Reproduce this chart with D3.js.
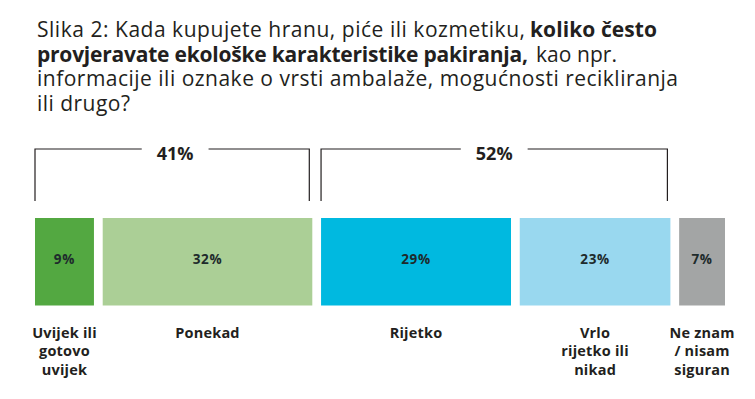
<!DOCTYPE html>
<html>
<head>
<meta charset="utf-8">
<script src="https://cdn.jsdelivr.net/npm/d3@7"></script>
<style>
  html, body { margin: 0; padding: 0; background: #fff; }
  svg { display: block; }
</style>
</head>
<body>
<div id="chart"></div>
<script>
(function () {
  // data
  var titleLines = [
    [{ t: 'Slika 2: Kada kupujete hranu, piće ili kozmetiku,', b: false }, { t: 'koliko često', b: true }],
    [{ t: 'provjeravate ekološke karakteristike pakiranja,', b: true }, { t: 'kao npr.', b: false }],
    [{ t: 'informacije ili oznake o vrsti ambalaže, mogućnosti recikliranja', b: false }],
    [{ t: 'ili drugo?', b: false }]
  ];
  var categoryLines = [
    ['Uvijek ili', 'gotovo', 'uvijek'],
    ['Ponekad'],
    ['Rijetko'],
    ['Vrlo', 'rijetko ili', 'nikad'],
    ['Ne znam', '/ nisam', 'siguran']
  ];
  var values = [9, 32, 29, 23, 7];
  var colors = ['#53a841', '#abcf96', '#00b9e0', '#99d8ef', '#a3a5a5'];
  var groupTotals = ['41%', '52%'];
  var groupFirst = [0, 2];
  var groupLast = [1, 3];

  var titleSpans = [
    [[37, 525], [530, 657]],
    [[37, 528], [536, 617]],
    [[37, 678]],
    [[37, 130]]
  ];

  var width = 755, height = 399;
  var left = 35, right = 725, gap = 8.75;
  var barTop = 218, barBottom = 305.5;
  var ink = '#231f20';

  var svg = d3.select('#chart').append('svg')
    .attr('width', width)
    .attr('height', height);

  // title
  var title = svg.append('g')
    .attr('fill', ink)
    .style('font-family', '"Open Sans", sans-serif')
    .style('font-size', '21px');

  titleLines.forEach(function (line, i) {
    line.forEach(function (part, j) {
      var span = titleSpans[i][j];
      title.append('text')
        .attr('x', span[0])
        .attr('y', 37 + i * 24.5)
        .attr('font-weight', part.b ? 700 : 400)
        .attr('textLength', span[1] - span[0])
        .attr('lengthAdjust', 'spacing')
        .text(part.t);
    });
  });

  // x scale: percentages -> pixels, leaving room for the gaps
  var x = d3.scaleLinear()
    .domain([0, 100])
    .range([0, right - left - gap * (values.length - 1)]);

  var starts = [];
  var acc = 0;
  values.forEach(function (v, i) {
    starts.push(left + x(acc) + gap * i);
    acc += v;
  });

  var bars = svg.append('g');

  bars.selectAll('rect')
    .data(values)
    .join('rect')
    .attr('x', function (d, i) { return starts[i]; })
    .attr('y', barTop)
    .attr('width', function (d) { return x(d); })
    .attr('height', barBottom - barTop)
    .attr('fill', function (d, i) { return colors[i]; });

  bars.selectAll('text')
    .data(values)
    .join('text')
    .attr('x', function (d, i) { return starts[i] + x(d) / 2; })
    .attr('y', (barTop + barBottom) / 2 + 2.5)
    .attr('text-anchor', 'middle')
    .attr('fill', '#1e2b2c')
    .style('font-family', '"Open Sans", sans-serif')
    .style('font-weight', 700)
    .style('font-size', '13.5px')
    .style('letter-spacing', '0.7px')
    .text(function (d) { return d + '%'; });

  // category labels under bars
  var labels = svg.append('g')
    .selectAll('text')
    .data(categoryLines)
    .join('text')
    .attr('text-anchor', 'middle')
    .attr('fill', ink)
    .style('font-family', '"Open Sans", sans-serif')
    .style('font-weight', 700)
    .style('font-size', '14.5px')
    .style('letter-spacing', '0.2px');

  labels.each(function (lines, i) {
    var cx = starts[i] + x(values[i]) / 2;
    d3.select(this).selectAll('tspan')
      .data(lines)
      .join('tspan')
      .attr('x', cx)
      .attr('y', function (d, k) { return 337.5 + k * 18.5; })
      .text(function (d) { return d; });
  });

  // brackets over the grouped bars
  var lineY = 149, footY = 201;
  var brackets = svg.append('g');

  groupTotals.forEach(function (label, i) {
    var x0 = starts[groupFirst[i]];
    var x1 = starts[groupLast[i]] + x(values[groupLast[i]]) - 3;
    var cx = (x0 + x1) / 2 + (i === 0 ? 3 : 0);

    var t = brackets.append('text')
      .attr('x', cx)
      .attr('y', lineY + 11)
      .attr('text-anchor', 'middle')
      .attr('fill', ink)
      .style('font-family', '"Open Sans", sans-serif')
      .style('font-weight', 700)
      .style('font-size', '18px')
      .text(label);

    var half = t.node().getComputedTextLength() / 2 + 15;

    brackets.append('path')
      .attr('d', 'M' + x0 + ',' + footY + 'V' + lineY + 'H' + (cx - half))
      .attr('fill', 'none')
      .attr('stroke', ink)
      .attr('stroke-width', 1.2);

    brackets.append('path')
      .attr('d', 'M' + (cx + half) + ',' + lineY + 'H' + x1 + 'V' + footY)
      .attr('fill', 'none')
      .attr('stroke', ink)
      .attr('stroke-width', 1.2);
  });
})();
</script>
</body>
</html>
